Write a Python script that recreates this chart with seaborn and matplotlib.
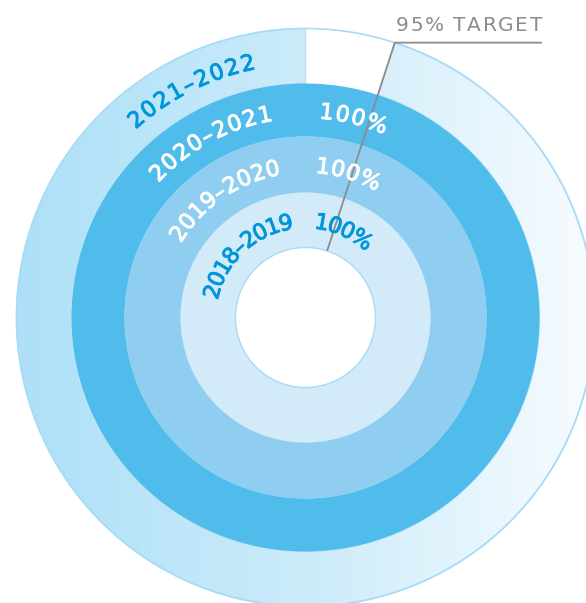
import numpy as np
import matplotlib
matplotlib.use("Agg")
import matplotlib.pyplot as plt
import matplotlib.patheffects as pe
import seaborn as sns
from matplotlib.patches import Wedge, Circle
from matplotlib.colors import LinearSegmentedColormap
from matplotlib.font_manager import FontProperties, findfont, get_font

# ---------------- data ----------------
years = ["2018–2019", "2019–2020", "2020–2021", "2021–2022"]
completion = [100, 100, 100, 95]
show_pct = [True, True, True, False]
target = 95
target_label = "95% TARGET"

# ---------------- style ----------------
sns.set_theme(style="white")
plt.rcParams["font.family"] = ["DejaVu Sans"]

ring_fill = ["#D3EAF8", "#8FCEF1", "#4FBCEB", None]      # None -> gradient ring
text_colors = ["#0096DA", "white", "white", "#0096DA"]
grad_cmap = LinearSegmentedColormap.from_list("g", ["#ADE0F8", "#CCEBFA", "#F8FCFF"])
outline = "#A6DCF5"
gray = "#8C8C8C"

# angles (deg, clockwise from 12 o'clock) of first / last character centers
year_ang = [(-74.5, -11.8), (-56.5, -12.5), (-45.5, -11.3), (-40.5, -12.8)]
pct_ang = [(9.8, 36.0), (6.6, 25.3), (5.9, 20.3), (0, 0)]

W, H = 586, 603
fig = plt.figure(figsize=(W / 100, H / 100), dpi=100)
ax = fig.add_axes([0, 0, 1, 1])
ax.set_xlim(0, W)
ax.set_ylim(0, H)
ax.set_aspect("equal")
ax.axis("off")

cx, cy = 305.5, H - 317.5
edges = [70, 125, 181, 234, 289]


def mang(theta):
    return 90 - theta


def advances(text, fs, weight):
    fp = FontProperties(family="DejaVu Sans", weight=weight, size=fs)
    font = get_font(findfont(fp))
    font.set_size(fs, 72)
    out = []
    for ch in text:
        g = font.load_char(ord(ch))
        out.append(g.linearHoriAdvance / 65536 * 100 / 72)
    return np.array(out)


def arc_text(text, r, th_first, th_last, fs, color, weight="normal", stroke=0.7):
    adv = advances(text, fs, weight)
    s = np.cumsum(adv) - adv / 2
    n = len(text)
    desired = r * np.radians(th_last - th_first)
    track = (desired - (s[-1] - s[0])) / (n - 1)
    s = s + np.arange(n) * track
    cap = 0.729 * fs * 100 / 72
    rb = r - cap / 2
    effects = [pe.withStroke(linewidth=stroke, foreground=color)]
    for ch, si in zip(text, s):
        th = th_first + np.degrees((si - s[0]) / r)
        t = np.radians(th)
        ax.text(cx + rb * np.sin(t), cy + rb * np.cos(t), ch, fontsize=fs,
                color=color, fontweight=weight, ha="center", va="baseline",
                rotation=-th, rotation_mode="anchor", path_effects=effects)


def line_text(text, x0, x1, y, fs, color, weight="normal"):
    adv = advances(text, fs, weight)
    n = len(text)
    track = ((x1 - x0) - adv.sum()) / (n - 1)
    x = x0
    for ch, a in zip(text, adv):
        ax.text(x, y, ch, fontsize=fs, color=color, fontweight=weight,
                ha="left", va="baseline")
        x += a + track


# ---------------- rings ----------------
for i, (yr, v) in enumerate(zip(years, completion)):
    r_in, r_out = edges[i], edges[i + 1]
    start = (1 - v / 100) * 360
    t1, t2 = mang(360), mang(start)
    if ring_fill[i] is None:
        clip = Wedge((cx, cy), r_out, t1, t2, width=r_out - r_in,
                     facecolor="none", edgecolor="none", transform=ax.transData)
        ax.add_patch(clip)
        grad = np.linspace(0, 1, 256).reshape(1, -1)
        im = ax.imshow(grad, cmap=grad_cmap, aspect="auto",
                       extent=[cx - r_out, cx + r_out, cy - r_out, cy + r_out],
                       zorder=0.5)
        im.set_clip_path(clip)
        ax.add_patch(Wedge((cx, cy), r_out, t1, t2, width=r_out - r_in,
                           facecolor="none", edgecolor="#BCE3F7", lw=1.0, zorder=0.6))
        ax.add_patch(Circle((cx, cy), r_out, fill=False, edgecolor=outline,
                            lw=1.2, zorder=0.7))
    else:
        ax.add_patch(Wedge((cx, cy), r_out, t1, t2, width=r_out - r_in,
                           facecolor=ring_fill[i], edgecolor="none", lw=0, zorder=1))

ax.add_patch(Circle((cx, cy), edges[0], facecolor="white", edgecolor=outline,
                    lw=1.0, zorder=2))

# ---------------- target line ----------------
tt = np.radians((1 - target / 100) * 360)
x_in, y_in = cx + edges[0] * np.sin(tt), cy + edges[0] * np.cos(tt)
x_out, y_out = cx + edges[-1] * np.sin(tt), cy + edges[-1] * np.cos(tt)
ax.plot([x_in, x_out, 542], [y_in, y_out, y_out], color=gray, lw=1.3,
        solid_capstyle="butt", zorder=3)
line_text(target_label, x_out + 1, 542, y_out + 12, 14.5, gray)

# ---------------- labels ----------------
fs = 16
for i, yr in enumerate(years):
    r_mid = (edges[i] + edges[i + 1]) / 2
    a0, a1 = year_ang[i]
    arc_text(yr, r_mid, a0, a1, fs, text_colors[i])
    if show_pct[i]:
        p0, p1 = pct_ang[i]
        arc_text(f"{completion[i]}%", r_mid, p0, p1, fs, text_colors[i])

fig.savefig("out.png", dpi=100)
